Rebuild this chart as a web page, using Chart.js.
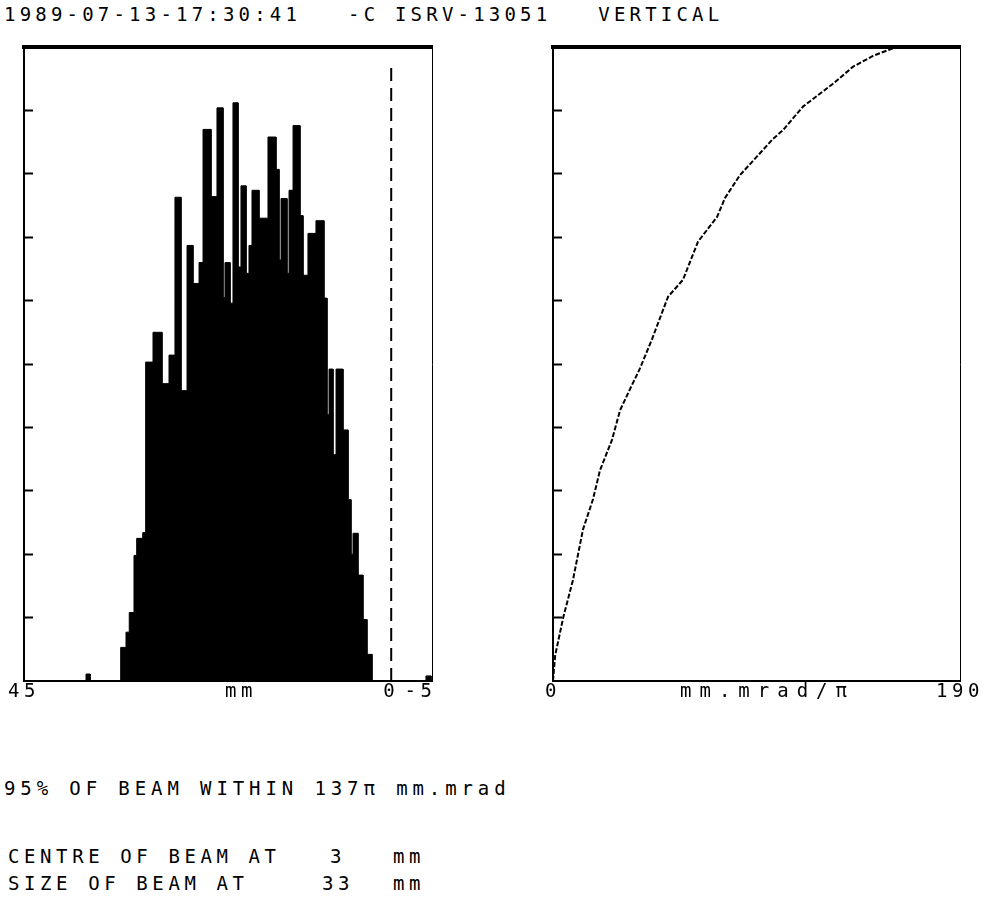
<!DOCTYPE html>
<html>
<head>
<meta charset="utf-8">
<script src="https://cdn.jsdelivr.net/npm/chart.js@4.4.1/dist/chart.umd.min.js"></script>
<style>
  body { margin: 0; background: #fff; width: 984px; height: 910px; position: relative; overflow: hidden;
         font-family: 'DejaVu Sans Mono', monospace; color: #000; }
  .txt { position: absolute; white-space: pre; font-size: 19px; line-height: 1; letter-spacing: 4.6px; }
  .panel { position: absolute; top: 37px; }
</style>
</head>
<body>
<div class="txt" style="left:4px;top:5px;letter-spacing:4.2px">1989-07-13-17:30:41   -C ISRV-13051   VERTICAL</div>

<canvas id="histCanvas" class="panel" width="428" height="654" style="left:14px"></canvas>
<canvas id="cumCanvas" class="panel" width="427" height="654" style="left:543px"></canvas>

<div class="txt" style="left:225px;top:681px">mm</div>
<div class="txt" style="left:680px;top:681px;letter-spacing:8px">mm.mrad/π</div>

<div class="txt" style="left:4px;top:779px;letter-spacing:4.9px">95% OF BEAM WITHIN 137π mm.mrad</div>
<div class="txt" style="left:8px;top:847px">CENTRE OF BEAM AT</div>
<div class="txt" style="left:330px;top:847px">3</div>
<div class="txt" style="left:393px;top:847px">mm</div>
<div class="txt" style="left:8px;top:874px">SIZE OF BEAM AT</div>
<div class="txt" style="left:322px;top:874px">33</div>
<div class="txt" style="left:393px;top:874px">mm</div>

<script>
// ========================================
// Beam profile (mm) + cumulative emittance
// ========================================

// --- histogram: bin edges in mm (descending) and bin heights (% of full scale)
const binEdges = [37.4, 36.9, 33.15, 32.5, 32.1, 31.52, 31.19, 30.45, 30.09, 29.19, 28.09, 27.23,
  26.5, 25.76, 25.02, 24.29, 23.55, 23.06, 22.08, 21.35, 20.61, 20.37, 19.75, 19.39, 18.77, 18.41,
  17.79, 17.43, 17.06, 16.2, 15.1, 14.12, 13.75, 13.5, 12.77, 12.52, 12.03, 11.18, 10.81, 10.2,
  9.22, 8.24, 7.87, 7.62, 7.13, 6.76, 5.91, 5.29, 4.93, 4.68, 4.07, 3.46, 2.97, 2.35, -4.26, -4.88];
const binHeights = [1.1, 0, 5.3, 7.7, 10.8, 19.8, 22.5, 23.4, 50.3, 55.0, 46.9, 51.4, 76.3, 45.8,
  68.7, 62.7, 66.0, 87.0, 76.4, 90.4, 60.5, 66.0, 59.6, 91.2, 65.3, 78.1, 64.3, 68.7, 77.4, 73.0,
  85.8, 80.7, 66.4, 76.1, 64.3, 77.4, 87.6, 73.4, 64.0, 70.6, 72.6, 60.4, 42.0, 49.2, 35.7, 49.2,
  39.6, 28.6, 20.0, 23.3, 16.7, 9.7, 4.2, 0, 0.8];
const centreLineMm = 0;
const centreLineTop = 97.5;

// --- cumulative curve: emittance (mm.mrad/pi) vs fraction of beam (%)
const emittance = [0, 1, 4.7, 9.3, 14.0, 18.7, 21.9, 27.5, 31.3, 35.9, 40.6, 46.2, 53.7, 60.7,
  67.7, 76.6, 80.3, 87.3, 102.7, 107.4, 116.7, 130.7, 140.1, 149.4, 158.7, 166.7];
const beamFraction = [0, 4.0, 9.9, 15.9, 23.9, 28.7, 33.2, 38.0, 42.7, 46.0, 49.3, 53.9, 60.6, 63.3,
  69.3, 73.2, 76.2, 79.8, 85.5, 86.9, 90.6, 94.2, 96.9, 98.6, 99.8, 100];

// --- axis ranges and tick labels
const histRange = [-5, 45];
const histTicks = [45, 0, -5];
const cumRange = [0, 190];
const cumTicks = [0, 190];
const yRange = [0, 100];

// Build histogram outline vertices from the bins
function histogramPoints() {
  const pts = [{ x: binEdges[0], y: 0 }];
  binHeights.forEach((h, i) => {
    pts.push({ x: binEdges[i], y: h });
    pts.push({ x: binEdges[i + 1], y: h });
  });
  pts.push({ x: binEdges[binEdges.length - 1], y: 0 });
  return pts;
}

const noSize = (scale) => {
  if (scale.isHorizontal()) scale.height = 0; else scale.width = 0;
};

// Frame axes: border lines only, inward tick marks on the left
function frameScales(xMin, xMax, reverse) {
  const hidden = { display: false };
  return {
    x: { type: 'linear', position: 'bottom', min: xMin, max: xMax, reverse: reverse,
         grid: hidden, ticks: hidden, border: { color: '#000', width: 2 }, afterFit: noSize },
    xTop: { type: 'linear', position: 'top', min: xMin, max: xMax, reverse: reverse,
            grid: hidden, ticks: hidden, border: { color: '#000', width: 4 }, afterFit: noSize },
    y: { type: 'linear', position: 'left', min: yRange[0], max: yRange[1],
         ticks: { display: false, stepSize: 10 },
         grid: {
           drawOnChartArea: false, drawTicks: true, tickLength: -9, tickWidth: 2,
           tickColor: (ctx) => (ctx.tick && ctx.tick.value > yRange[0] && ctx.tick.value < yRange[1]) ? '#000' : 'rgba(0,0,0,0)'
         },
         border: { color: '#000', width: 2 }, afterFit: noSize },
    yRight: { type: 'linear', position: 'right', min: yRange[0], max: yRange[1],
              grid: hidden, ticks: hidden, border: { color: '#000', width: 1 }, afterFit: noSize }
  };
}

const baseOptions = {
  responsive: false,
  devicePixelRatio: 1,
  animation: false,
  layout: { padding: 10 },
  plugins: { legend: { display: false }, tooltip: { enabled: false } }
};

// Left panel: beam profile
const histChart = new Chart(document.getElementById('histCanvas'), {
  type: 'line',
  data: {
    datasets: [
      {
        data: histogramPoints(),
        borderColor: '#000', backgroundColor: '#000', borderWidth: 1,
        fill: 'origin', pointRadius: 0, tension: 0
      },
      {
        data: [{ x: centreLineMm, y: 0 }, { x: centreLineMm, y: centreLineTop }],
        borderColor: '#000', borderWidth: 2, borderDash: [13, 7],
        fill: false, pointRadius: 0
      }
    ]
  },
  options: { ...baseOptions, scales: frameScales(histRange[0], histRange[1], true) }
});

// Right panel: cumulative fraction of beam vs emittance
const cumChart = new Chart(document.getElementById('cumCanvas'), {
  type: 'line',
  data: {
    datasets: [{
      data: emittance.map((e, i) => ({ x: e, y: beamFraction[i] })),
      borderColor: '#000', borderWidth: 2, borderDash: [5, 2],
      fill: false, pointRadius: 0, tension: 0
    }]
  },
  options: { ...baseOptions, scales: frameScales(cumRange[0], cumRange[1], false) }
});

// Tick labels placed under the x scale pixels (last one may be right-aligned)
function placeTickLabels(chart, canvasId, values, alignLastRight) {
  const canvas = document.getElementById(canvasId);
  const left = canvas.offsetLeft;
  values.forEach((v, i) => {
    const el = document.createElement('div');
    el.className = 'txt';
    el.textContent = String(v);
    el.style.top = '681px';
    el.style.left = (left + chart.scales.x.getPixelForValue(v)) + 'px';
    const last = alignLastRight && i === values.length - 1;
    el.style.transform = last ? 'translateX(calc(-100% + 4.6px))' : 'translateX(-50%)';
    document.body.appendChild(el);
  });
}

placeTickLabels(histChart, 'histCanvas', histTicks, true);
placeTickLabels(cumChart, 'cumCanvas', cumTicks, false);
</script>
</body>
</html>
